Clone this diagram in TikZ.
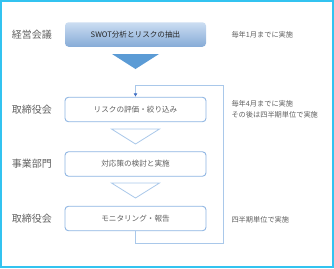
\documentclass[tikz,border=0pt]{standalone}
\usepackage{fontspec}
\setmainfont{Noto Sans CJK JP}
\usetikzlibrary{arrows.meta}
\definecolor{frameC}{HTML}{33C3F0}
\definecolor{boxB}{HTML}{8DB4E2}
\definecolor{lineB}{HTML}{A9C8EA}
\definecolor{triB}{HTML}{5B9BD5}
\definecolor{tipB}{HTML}{4472C4}
\definecolor{txtG}{HTML}{606060}
\tikzset{
  stepbox/.style={draw=boxB, line width=0.9pt, rounded corners=3.5pt, fill=white,
    minimum width=141pt, minimum height=24.5pt, inner sep=0pt,
    font=\fontsize{7.6}{9}\selectfont, text=txtG},
  topbox/.style={stepbox, draw=none, top color=boxB!45!white, bottom color=boxB!95!black,
    text=black!85},
  rolelbl/.style={font=\fontsize{10}{11}\selectfont, text=txtG, anchor=center},
  notelbl/.style={font=\fontsize{7.2}{11}\selectfont, text=txtG, anchor=west, align=left},
  outtri/.style={draw=lineB, line width=0.8pt, fill=white, line join=miter},
  fbline/.style={draw=lineB, line width=0.9pt}
}
\begin{document}
\begin{tikzpicture}[x=1pt,y=-1pt]
\useasboundingbox (0,0) rectangle (334,268);
\draw[frameC, line width=1.5pt] (1,1) rectangle (333,267);

\node[topbox]   (b1) at (135.5,34.5)  {SWOT分析とリスクの抽出};
\node[stepbox]  (b2) at (135.5,109.5) {リスクの評価・絞り込み};
\node[stepbox]  (b3) at (135.5,164)   {対応策の検討と実施};
\node[stepbox]  (b4) at (135.5,218.5) {モニタリング・報告};

\node[rolelbl] (r1) at (32,34.5)  {経営会議};
\node[rolelbl] (r2) at (32,109.5) {取締役会};
\node[rolelbl] (r3) at (32,164)   {事業部門};
\node[rolelbl] (r4) at (32,218.5) {取締役会};

\node[notelbl] (n1) at (228,34.5) {毎年1月までに実施};
\node[notelbl] (n2) at (228,109.5) {毎年4月までに実施\\その後は四半期単位で実施};
\node[notelbl] (n3) at (228,220) {四半期単位で実施};

\fill[triB] (112,54) -- (159,54) -- (135.5,69) -- cycle;
\draw[outtri] (111.5,129) -- (159.5,129) -- (135.5,144) -- cycle;
\draw[outtri] (111.5,183) -- (159.5,183) -- (135.5,198) -- cycle;

\coordinate (f1) at (223,243);
\coordinate (f2) at (223,85);
\draw[fbline, -{Latex[length=3.5pt,width=4pt,color=tipB]}]
  (b4.south) -- (b4.south |- f1) -- (f1) -- (f2) -- (f2 -| b2.north) -- (b2.north);
\end{tikzpicture}
\end{document}
